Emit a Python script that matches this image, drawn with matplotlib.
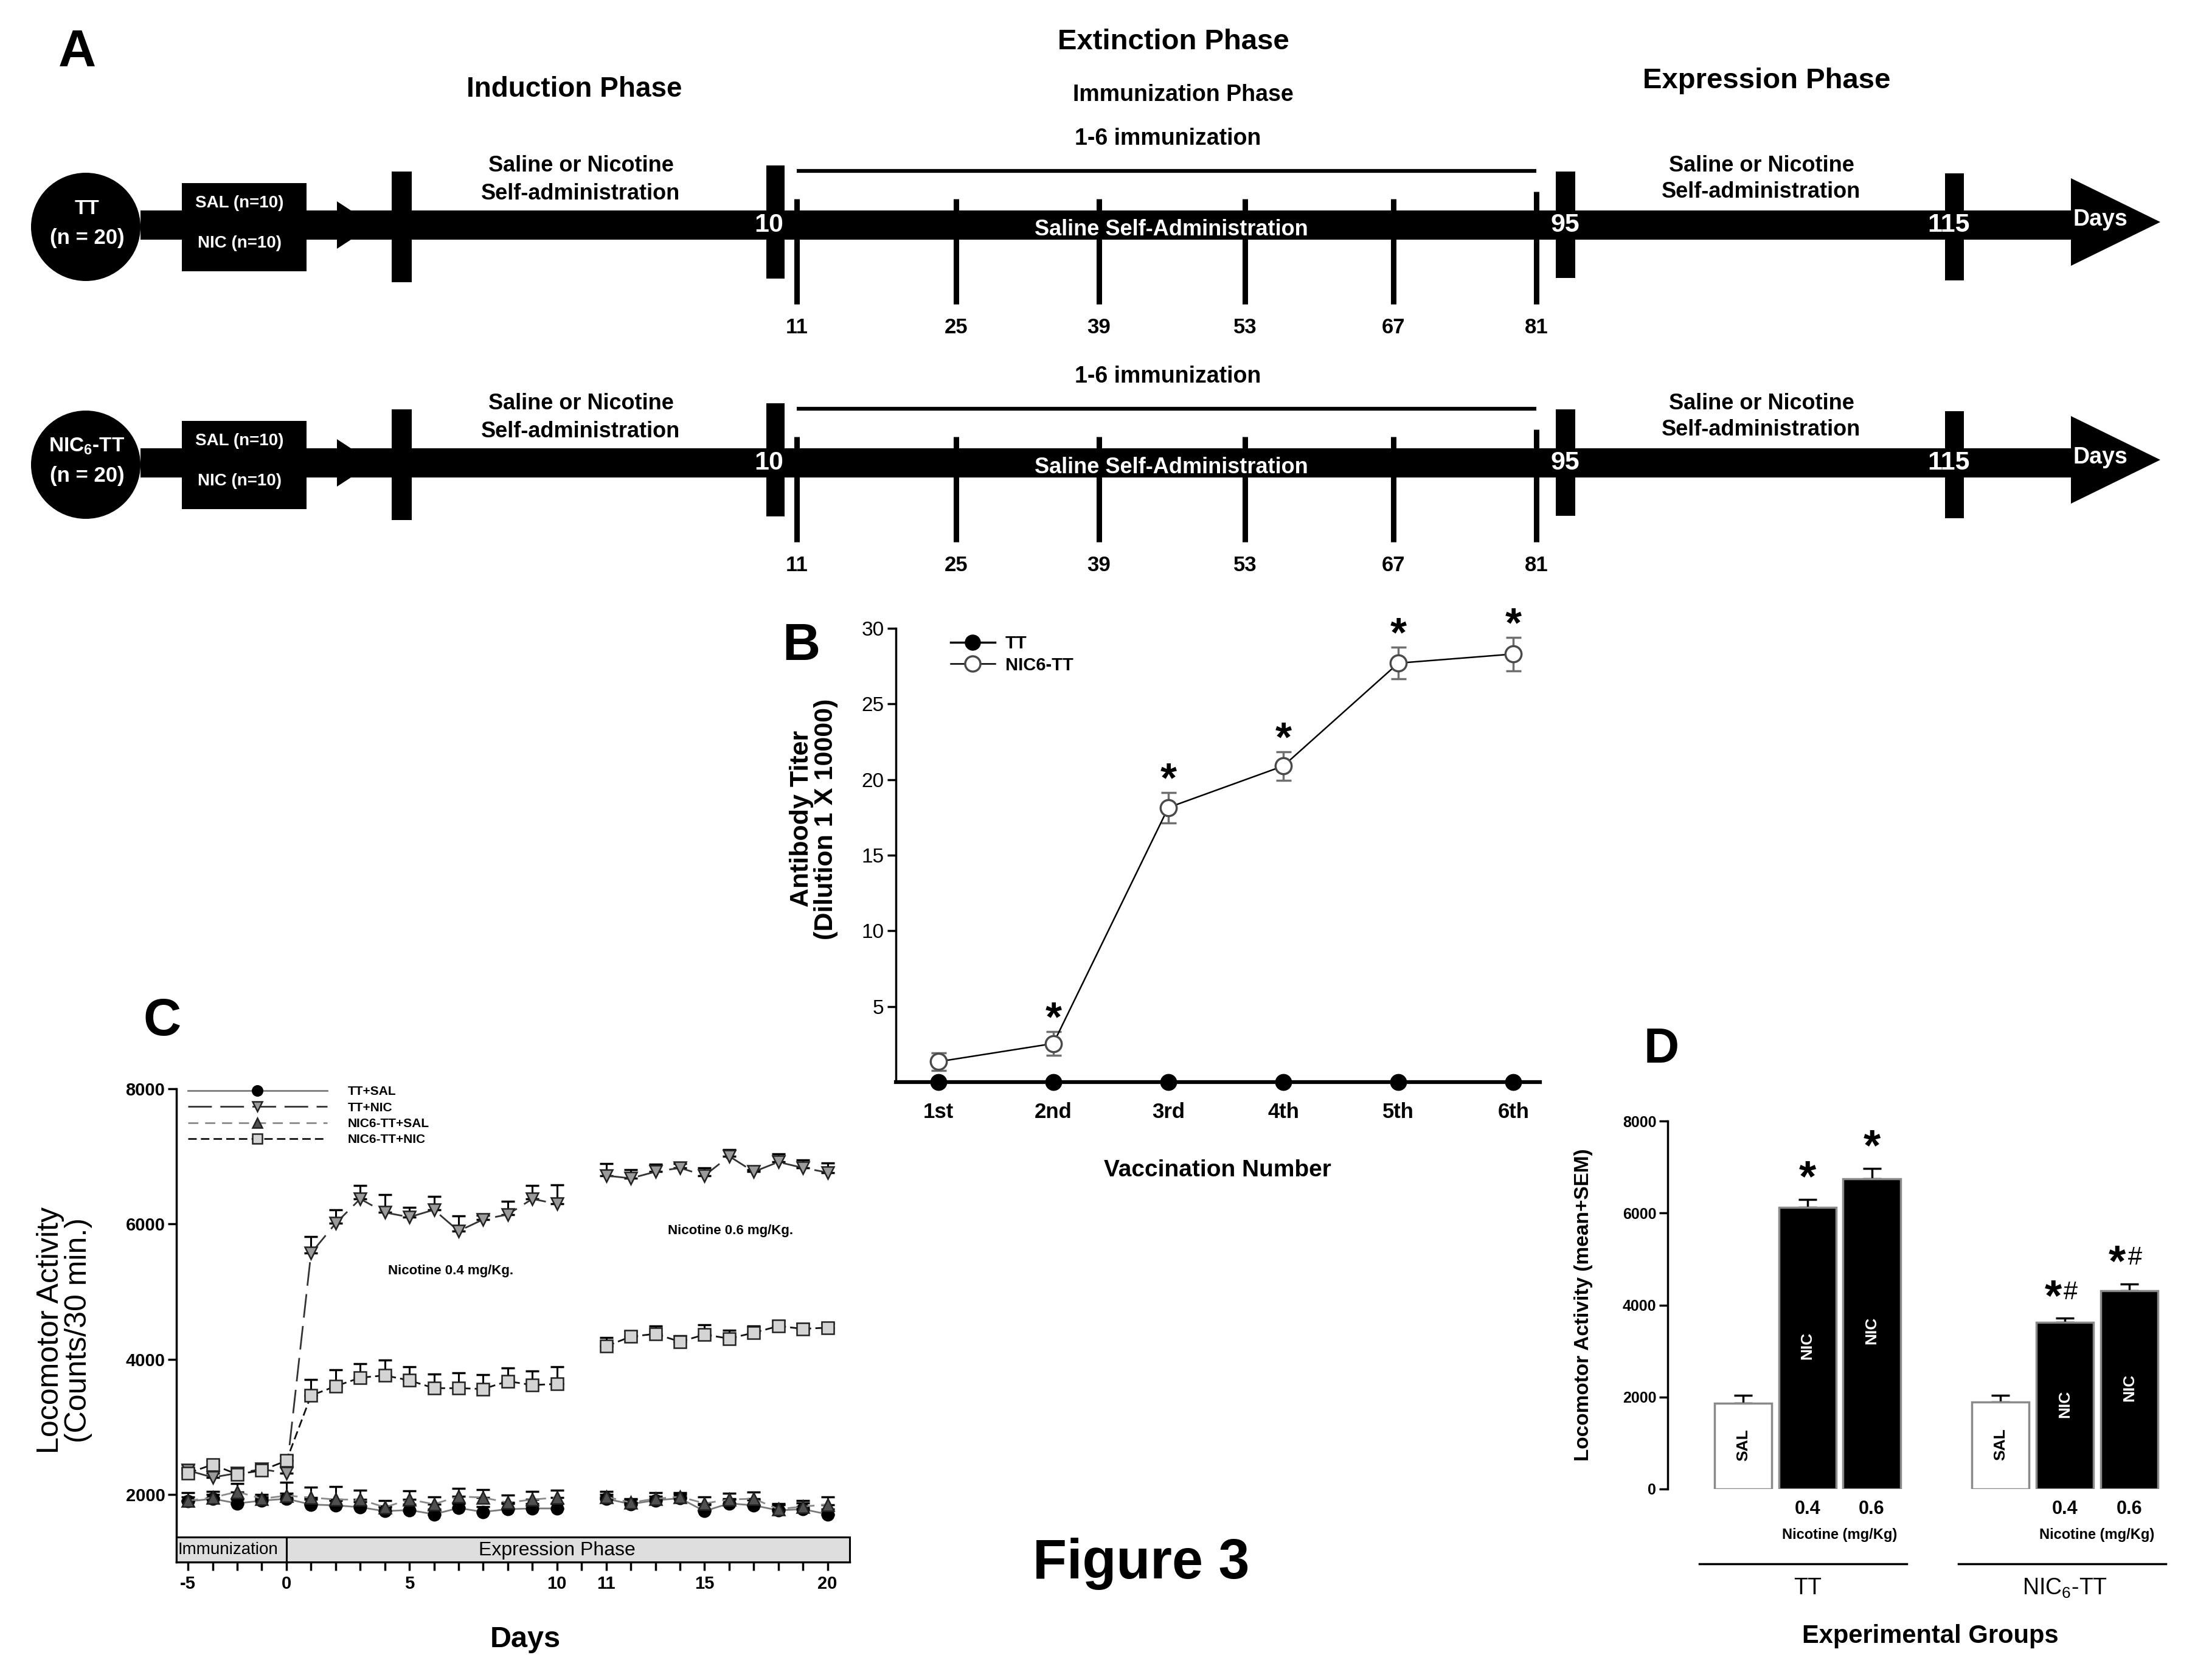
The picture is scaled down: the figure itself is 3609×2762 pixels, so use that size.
import matplotlib
matplotlib.use('Agg')
import matplotlib.pyplot as plt
from matplotlib.patches import Rectangle, Ellipse, Polygon
import numpy as np

plt.rcParams['font.family'] = ['Liberation Sans', 'DejaVu Sans']
plt.rcParams['mathtext.fontset'] = 'custom'
plt.rcParams['mathtext.rm'] = 'Liberation Sans'
plt.rcParams['mathtext.bf'] = 'Liberation Sans:bold'

# ---------------- data ----------------
# Panel A (protocol timeline)
a_groups = ['TT', 'NIC$_\\mathregular{6}$-TT']
a_group_n = ['(n = 20)', '(n = 20)']
a_subgroups = ['SAL (n=10)', 'NIC (n=10)']
a_phase_days = ['10', '95', '115']
a_immun_days = ['11', '25', '39', '53', '67', '81']

# Panel B (antibody titer)
b_vacc = ['1st', '2nd', '3rd', '4th', '5th', '6th']
b_tt = [0, 0, 0, 0, 0, 0]
b_nic6 = [1.35, 2.55, 18.15, 20.9, 27.7, 28.3]
b_nic6_err = [0.6, 0.8, 1.0, 0.95, 1.05, 1.1]
b_sig = ['', '*', '*', '*', '*', '*']

# Panel C (locomotor activity over sessions)
c_pos_imm = [-4, -3, -2, -1, 0]
c_pos_e1 = [1, 2, 3, 4, 5, 6, 7, 8, 9, 10, 11]
c_pos_e2 = [13, 14, 15, 16, 17, 18, 19, 20, 21, 22]
c_tick_pos = [-4, 0, 5, 11, 13, 17, 22]
c_tick_lab = ['-5', '0', '5', '10', '11', '15', '20']

tt_sal_imm = [1897, 1937, 1868, 1908, 1937]
tt_sal_e1 = [1851, 1839, 1811, 1753, 1770, 1707, 1799, 1742, 1782, 1793, 1793]
tt_sal_e2 = [1937, 1857, 1914, 1943, 1753, 1868, 1839, 1765, 1782, 1707]
tt_sal_err_imm = [70, 60, 60, 60, 80]
tt_sal_err_e1 = [80, 70, 80, 80, 90, 80, 70, 80, 80, 70, 70]
tt_sal_err_e2 = [60, 70, 60, 60, 90, 70, 80, 80, 90, 80]

tt_nic_imm = [2356, 2252, 2316, 2373, 2316]
tt_nic_e1 = [5568, 6010, 6372, 6171, 6102, 6211, 5896, 6068, 6142, 6372, 6297]
tt_nic_e2 = [6716, 6676, 6773, 6831, 6716, 7003, 6773, 6917, 6831, 6762]
tt_nic_err_imm = [80, 60, 80, 70, 90]
tt_nic_err_e1 = [250, 200, 200, 260, 140, 200, 220, 60, 190, 200, 280]
tt_nic_err_e2 = [180, 125, 115, 60, 115, 100, 30, 125, 115, 145]

nic_sal_imm = [1908, 1954, 2040, 1937, 1983]
nic_sal_e1 = [1954, 1925, 1925, 1811, 1925, 1857, 1971, 1954, 1880, 1925, 1954]
nic_sal_e2 = [1966, 1880, 1937, 1966, 1868, 1925, 1937, 1782, 1822, 1851]
nic_sal_err_imm = [120, 90, 120, 60, 200]
nic_sal_err_e1 = [150, 190, 140, 100, 130, 110, 120, 120, 110, 120, 110]
nic_sal_err_e2 = [80, 60, 90, 60, 100, 90, 100, 80, 90, 110]

nic_nic_imm = [2316, 2442, 2298, 2356, 2499]
nic_nic_e1 = [3463, 3601, 3727, 3761, 3687, 3572, 3572, 3560, 3675, 3618, 3635]
nic_nic_e2 = [4192, 4335, 4375, 4260, 4364, 4306, 4392, 4490, 4450, 4467]
nic_nic_err_imm = [70, 60, 60, 60, 80]
nic_nic_err_e1 = [240, 245, 205, 230, 200, 210, 230, 213, 200, 210, 250]
nic_nic_err_e2 = [130, 85, 120, 86, 143, 126, 104, 86, 74, 63]

c_series = ['TT+SAL', 'TT+NIC', 'NIC6-TT+SAL', 'NIC6-TT+NIC']

# Panel D (bar chart)
d_group_names = ['TT', 'NIC$_\\mathregular{6}$-TT']
d_bar_labels = ['SAL', 'NIC', 'NIC', 'SAL', 'NIC', 'NIC']
d_doses = ['', '0.4', '0.6', '', '0.4', '0.6']
d_values = [1870, 6120, 6750, 1895, 3620, 4315]
d_errors = [160, 180, 225, 135, 90, 145]
d_sig = ['', '*', '*', '', '*#', '*#']

# ---------------- figure ----------------
W, H = 3609, 2762
fig = plt.figure(figsize=(W / 100, H / 100), dpi=100)

# ===== Panel A: schematic drawn in pixel space =====
axA = fig.add_axes([0, 0, 1, 1], zorder=0)
axA.set_xlim(0, W)
axA.set_ylim(H, 0)
axA.axis('off')

rows_y = [370, 761]
thick_x = [660, 1275, 2574, 3213]
thick_w = [33, 30, 32, 31]
thick_span = [(-88, 94), (-98, 88), (-88, 87), (-85, 91)]
tick_x = [1310, 1572, 1807, 2047, 2291, 2526]
phase_label_x = [1264, 2573, 3204]

for r, yc in enumerate(rows_y):
    # main bar + arrow head
    axA.add_patch(Rectangle((231, yc - 24), 3410 - 231, 48, color='black', lw=0))
    axA.add_patch(Polygon([(3405, yc - 77), (3552, yc - 5), (3405, yc + 67)], closed=True, color='black', lw=0))
    # group circle
    axA.add_patch(Ellipse((141, yc + 3), 180, 178, color='black', lw=0))
    axA.text(143, yc - 27, a_groups[r], color='white', fontsize=24, fontweight='bold', ha='center', va='center')
    axA.text(143, yc + 21, a_group_n[r], color='white', fontsize=25, fontweight='bold', ha='center', va='center')
    # subgroup box
    axA.add_patch(Rectangle((299, yc - 69), 205, 145, color='black', lw=0))
    axA.text(394, yc - 36, a_subgroups[0], color='white', fontsize=20, fontweight='bold', ha='center', va='center')
    axA.text(394, yc + 30, a_subgroups[1], color='white', fontsize=20, fontweight='bold', ha='center', va='center')
    # small arrow heads
    axA.add_patch(Polygon([(554, yc - 39), (577, yc - 24), (554, yc - 24)], closed=True, color='black', lw=0))
    axA.add_patch(Polygon([(554, yc + 39), (577, yc + 24), (554, yc + 24)], closed=True, color='black', lw=0))
    # thick phase bars
    for x, w, (t, b) in zip(thick_x, thick_w, thick_span):
        axA.add_patch(Rectangle((x - w / 2, yc + t), w, b - t, color='black', lw=0))
    # thin immunization ticks + labels
    for i, (x, lab) in enumerate(zip(tick_x, a_immun_days)):
        top = yc - 55 if i == len(tick_x) - 1 else yc - 43
        axA.plot([x, x], [top, yc + 130], color='black', lw=6.5, solid_capstyle='butt')
        axA.text(x, yc + 168, lab, fontsize=25, fontweight='bold', ha='center', va='center')
    axA.plot([tick_x[0], tick_x[-1]], [yc - 89, yc - 89], color='black', lw=4.5, solid_capstyle='butt')
    axA.text(1920, yc - 142, '1-6 immunization', fontsize=27, fontweight='bold', ha='center', va='center')
    # day labels in the bar
    for x, lab in zip(phase_label_x, a_phase_days):
        axA.text(x, yc, lab, color='white', fontsize=31, fontweight='bold', ha='center', va='center')
    axA.text(3453, yc - 9, 'Days', color='white', fontsize=27, fontweight='bold', ha='center', va='center')
    axA.text(1926, yc + 7, 'Saline Self-Administration', color='white', fontsize=26, fontweight='bold',
             ha='center', va='center')
    axA.text(955, yc - 98, 'Saline or Nicotine', fontsize=26, fontweight='bold', ha='center', va='center')
    axA.text(955, yc - 52, 'Self-administration', fontsize=26, fontweight='bold', ha='center', va='center')
    axA.text(2896, yc - 98, 'Saline or Nicotine', fontsize=26, fontweight='bold', ha='center', va='center')
    axA.text(2896, yc - 55, 'Self-administration', fontsize=26, fontweight='bold', ha='center', va='center')

axA.text(127, 87, 'A', fontsize=62, fontweight='bold', ha='center', va='center')
axA.text(944, 147, 'Induction Phase', fontsize=33, fontweight='bold', ha='center', va='center')
axA.text(1929, 69, 'Extinction Phase', fontsize=34, fontweight='bold', ha='center', va='center')
axA.text(1945, 156, 'Immunization Phase', fontsize=27, fontweight='bold', ha='center', va='center')
axA.text(2905, 133, 'Expression Phase', fontsize=34, fontweight='bold', ha='center', va='center')
axA.text(1317, 1063, 'B', fontsize=62, fontweight='bold', ha='center', va='center')
axA.text(267, 1680, 'C', fontsize=62, fontweight='bold', ha='center', va='center')
axA.text(2732, 1726, 'D', fontsize=58, fontweight='bold', ha='center', va='center')
axA.text(1876, 2571, 'Figure 3', fontsize=66, fontweight='bold', ha='center', va='center')

# ===== Panel B =====
axB = fig.add_axes([0.4081, 0.3559, 0.2934, 0.2701], zorder=2)
xb = np.arange(1, len(b_vacc) + 1)
axB.errorbar(xb, b_nic6, yerr=b_nic6_err, fmt='none', ecolor='#6f6f6f', elinewidth=2.5,
             capsize=9, capthick=2.5, zorder=3)
axB.plot(xb, b_nic6, '-', color='black', lw=1.8, marker='o', markersize=19, markerfacecolor='white',
         markeredgecolor='#4a4a4a', markeredgewidth=2.5, label='NIC6-TT', zorder=4, clip_on=False)
axB.plot(xb, b_tt, '-', color='black', lw=2.5, marker='o', markersize=19, markerfacecolor='black',
         markeredgecolor='black', label='TT', zorder=5, clip_on=False)
for x, v, e, s in zip(xb, b_nic6, b_nic6_err, b_sig):
    if s:
        axB.text(x, v + e + 0.05, s, fontsize=50, fontweight='bold', ha='center', va='baseline',
                 clip_on=False)
axB.set_xlim(0.63, 6.23)
axB.set_ylim(0, 30)
axB.set_yticks([5, 10, 15, 20, 25, 30])
axB.set_xticks(xb)
axB.set_xticklabels(b_vacc, fontsize=25, fontweight='bold')
axB.tick_params(axis='y', labelsize=24, direction='out', length=10, width=2.5, pad=4)
axB.tick_params(axis='x', direction='out', length=10, width=3, pad=14)
for sp in ['top', 'right']:
    axB.spines[sp].set_visible(False)
axB.spines['left'].set_linewidth(2.5)
axB.spines['bottom'].set_linewidth(4.5)
axB.set_ylabel('Antibody Titer\n(Dilution 1 X 10000)', fontsize=31, fontweight='bold', linespacing=1.0)
axB.yaxis.set_label_coords(-0.09, 0.58)
axB.set_xlabel('Vaccination Number', fontsize=28, fontweight='bold')
axB.xaxis.set_label_coords(0.5, -0.17)
h, l = axB.get_legend_handles_labels()
axB.legend(h[::-1], l[::-1], loc='upper left', bbox_to_anchor=(0.06, 1.02), frameon=False,
           prop={'size': 21, 'weight': 'bold'}, handlelength=2.5, handletextpad=0.6, labelspacing=0.25,
           markerscale=0.95)
axB.patch.set_alpha(0)

# ===== Panel C =====
axC = fig.add_axes([0.0804, 0.0702, 0.3067, 0.2817], zorder=2)
axC.set_xlim(-4.47, 22.9)
axC.set_ylim(1000, 8000)

styles = [
    dict(marker='o', mfc='black', mec='black', ls='-', color='#7a7a7a', dashes=None),
    dict(marker='v', mfc='#9a9a9a', mec='#222222', ls='--', color='#333333', dashes=(14, 5)),
    dict(marker='^', mfc='#505050', mec='#222222', ls='--', color='#8a8a8a', dashes=(6, 4)),
    dict(marker='s', mfc='#d4d4d4', mec='#222222', ls='--', color='#111111', dashes=(5, 2.5)),
]
c_data = [
    (tt_sal_imm, tt_sal_e1, tt_sal_e2, tt_sal_err_imm, tt_sal_err_e1, tt_sal_err_e2),
    (tt_nic_imm, tt_nic_e1, tt_nic_e2, tt_nic_err_imm, tt_nic_err_e1, tt_nic_err_e2),
    (nic_sal_imm, nic_sal_e1, nic_sal_e2, nic_sal_err_imm, nic_sal_err_e1, nic_sal_err_e2),
    (nic_nic_imm, nic_nic_e1, nic_nic_e2, nic_nic_err_imm, nic_nic_err_e1, nic_nic_err_e2),
]
for k, (name, st, dat) in enumerate(zip(c_series, styles, c_data)):
    imm, e1, e2, eimm, ee1, ee2 = dat
    xs_a = c_pos_imm + c_pos_e1
    ys_a = imm + e1
    er_a = eimm + ee1
    for j, (xs, ys, er) in enumerate([(xs_a, ys_a, er_a), (c_pos_e2, e2, ee2)]):
        er = np.array(er)
        axC.errorbar(xs, ys, yerr=[np.zeros_like(er), er], fmt='none', ecolor='black',
                     elinewidth=2.2, capsize=8, capthick=2.5, zorder=3 + k)
        kw = dict(marker=st['marker'], markersize=14, markerfacecolor=st['mfc'],
                  markeredgecolor=st['mec'], markeredgewidth=1.8, color=st['color'], lw=2.0,
                  zorder=4 + k, label=name if j == 0 else None)
        if st['dashes'] is None:
            axC.plot(xs, ys, '-', **kw)
        else:
            axC.plot(xs, ys, '--', dashes=st['dashes'], **kw)

# phase bar
axC.add_patch(Rectangle((-4.47, 1000), 4.47, 370, facecolor='#dedede', edgecolor='black', lw=2.2,
                        zorder=10, clip_on=False))
axC.add_patch(Rectangle((0, 1000), 22.9, 370, facecolor='#dedede', edgecolor='black', lw=2.2,
                        zorder=10, clip_on=False))
axC.text(-4.42, 1185, 'Immunization', fontsize=20, ha='left', va='center', zorder=11)
axC.text(11.0, 1175, 'Expression Phase', fontsize=23, ha='center', va='center', zorder=11)

axC.text(6.68, 5310, 'Nicotine 0.4 mg/Kg.', fontsize=16, fontweight='bold', ha='center', va='center')
axC.text(18.06, 5901, 'Nicotine 0.6 mg/Kg.', fontsize=16, fontweight='bold', ha='center', va='center')

axC.set_yticks([2000, 4000, 6000, 8000])
axC.set_yticklabels(['2000', '4000', '6000', '8000'], fontsize=21, fontweight='bold')
axC.set_xticks(range(-4, 23))
labmap = dict(zip(c_tick_pos, c_tick_lab))
axC.set_xticklabels([labmap.get(p, '') for p in range(-4, 23)], fontsize=21, fontweight='bold')
axC.tick_params(axis='both', direction='out', length=10, width=2.5)
axC.tick_params(axis='x', pad=6)
for sp in ['top', 'right']:
    axC.spines[sp].set_visible(False)
axC.spines['left'].set_linewidth(2.5)
axC.spines['bottom'].set_linewidth(2.5)
axC.set_ylabel('Locomotor Activity\n(Counts/30 min.)', fontsize=36, linespacing=1.0)
axC.yaxis.set_label_coords(-0.125, 0.49)
axC.set_xlabel('Days', fontsize=35, fontweight='bold')
axC.xaxis.set_label_coords(0.518, -0.135)
axC.legend(loc='upper left', bbox_to_anchor=(0.0, 1.03), frameon=False,
           prop={'size': 15, 'weight': 'bold'}, handlelength=11, handletextpad=1.6, labelspacing=0.35,
           markerscale=0.85)
axC.patch.set_alpha(0)

# ===== Panel D =====
axD = fig.add_axes([0.7598, 0.1137, 0.2278, 0.2190], zorder=2)
xd = [0, 1, 2, 4, 5, 6]
fcs = ['white' if lab == 'SAL' else 'black' for lab in d_bar_labels]
axD.errorbar(xd, d_values, yerr=[np.zeros(len(d_errors)), d_errors], fmt='none', ecolor='black',
             elinewidth=2.5, capsize=11, capthick=2.5, zorder=2)
axD.bar(xd, d_values, width=0.89, color=fcs, edgecolor='#8a8a8a', linewidth=2.5, zorder=3)
for x, v, lab, fc in zip(xd, d_values, d_bar_labels, fcs):
    axD.text(x, v * 0.51, lab, rotation=90, fontsize=19, fontweight='bold', ha='center', va='center',
             color='black' if fc == 'white' else 'white', zorder=4)
for x, v, e, s in zip(xd, d_values, d_errors, d_sig):
    if s == '*':
        axD.text(x, v + e + 180, '*', fontsize=52, fontweight='bold', ha='center', va='baseline')
    elif s == '*#':
        axD.text(x - 0.05, v + e + 180, '*', fontsize=52, fontweight='bold', ha='right', va='baseline')
        axD.text(x - 0.02, v + e + 420, '#', fontsize=30, ha='left', va='baseline')
tr = axD.get_xaxis_transform()
for x, dose in zip(xd, d_doses):
    if dose:
        axD.text(x, -0.055, dose, fontsize=22, fontweight='bold', ha='center', va='center', transform=tr)
for xc in [1.5, 5.5]:
    axD.text(xc, -0.125, 'Nicotine (mg/Kg)', fontsize=17, fontweight='bold', ha='center', va='center',
             transform=tr)
for (x0, x1), xc, name in zip([(-0.68, 2.54), (3.35, 6.57)], [1, 5], d_group_names):
    axD.plot([x0, x1], [-0.203, -0.203], color='black', lw=2.5, transform=tr, clip_on=False)
    axD.text(xc, -0.27, name, fontsize=27, ha='center', va='center', transform=tr)
axD.text(2.91, -0.40, 'Experimental Groups', fontsize=30, fontweight='bold', ha='center', va='center',
         transform=tr)
axD.set_xlim(-1.17, 6.6)
axD.set_ylim(0, 8000)
axD.set_yticks([0, 2000, 4000, 6000, 8000])
axD.set_yticklabels(['0', '2000', '4000', '6000', '8000'], fontsize=18, fontweight='bold')
axD.set_xticks([])
axD.tick_params(axis='y', direction='out', length=10, width=2.5)
for sp in ['top', 'right', 'bottom']:
    axD.spines[sp].set_visible(False)
axD.spines['left'].set_linewidth(2.5)
axD.set_ylabel('Locomotor Activity (mean+SEM)', fontsize=24, fontweight='bold')
axD.yaxis.set_label_coords(-0.15, 0.5)
axD.patch.set_alpha(0)

fig.savefig('out.png', dpi=100)
